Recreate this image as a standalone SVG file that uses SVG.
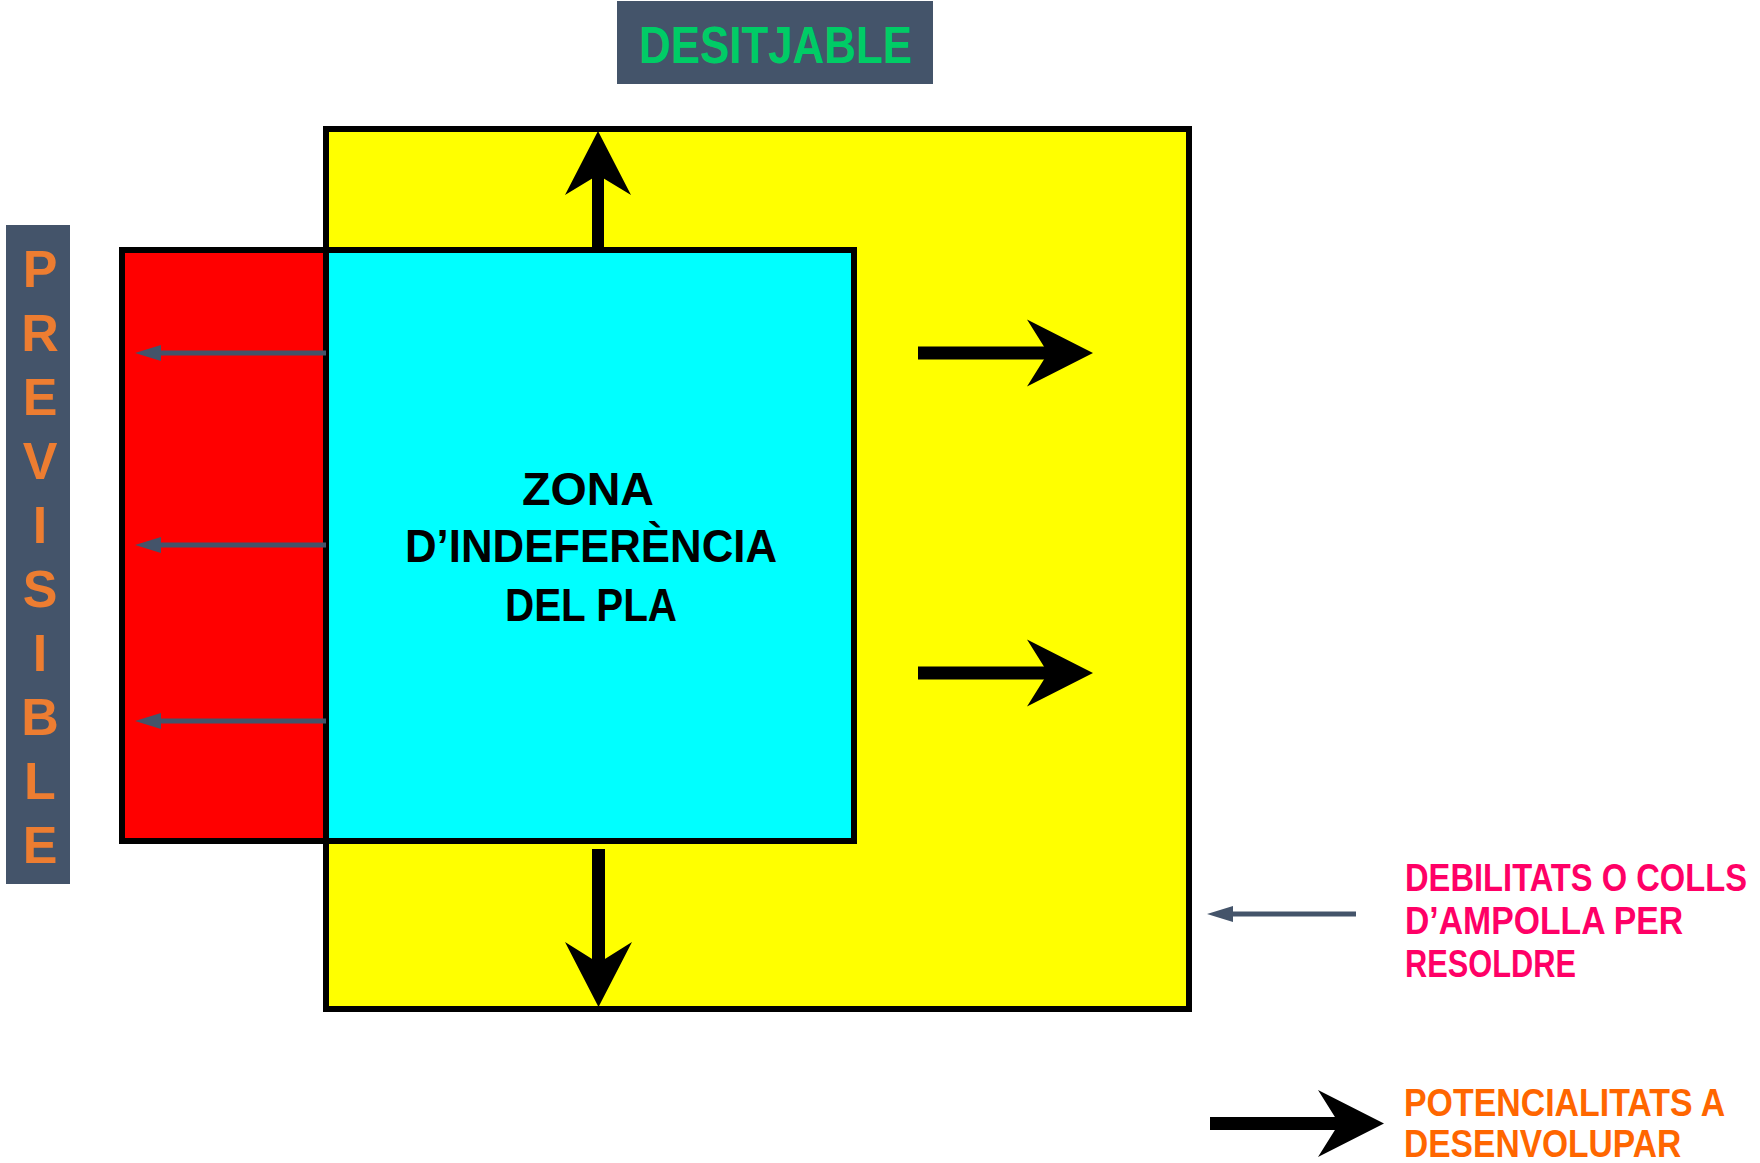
<svg xmlns="http://www.w3.org/2000/svg" width="1760" height="1163" viewBox="0 0 1760 1163">
  <style>
    .t { font-family: "Liberation Sans", Arial, sans-serif; font-weight: bold; }
    .box { stroke: #000; stroke-width: 6; }
    .blk { fill: #000; }
    .gry { stroke: #44546A; stroke-width: 5; fill: none; }
    .gryhead { fill: #44546A; }
  </style>
  <defs>
    <marker id="gh" viewBox="0 0 26 16" refX="0" refY="8" markerWidth="26" markerHeight="16" markerUnits="userSpaceOnUse" orient="auto">
      <path d="M26,8 L0,0 L0,16 Z" class="gryhead"/>
    </marker>
  </defs>
  <rect width="1760" height="1163" fill="#FFFFFF"/>

  <g id="desitjable">
    <rect x="617" y="1" width="316" height="83" fill="#44546A"/>
    <text class="t" x="639" y="63" font-size="52" fill="#00CC66" textLength="273" lengthAdjust="spacingAndGlyphs">DESITJABLE</text>
  </g>

  <g id="previsible">
    <rect x="6" y="225" width="64" height="659" fill="#44546A"/>
    <g class="t" font-size="52" fill="#ED7D31" text-anchor="middle">
      <text x="40" y="287">P</text>
      <text x="40" y="351">R</text>
      <text x="40" y="415">E</text>
      <text x="40" y="479">V</text>
      <text x="40" y="543">I</text>
      <text x="40" y="607">S</text>
      <text x="40" y="671">I</text>
      <text x="40" y="735">B</text>
      <text x="40" y="799">L</text>
      <text x="40" y="863">E</text>
    </g>
  </g>

  <g id="zona-desitjable">
    <rect class="box" x="326" y="129" width="863" height="880" fill="#FFFF00"/>
  </g>

  <g id="zona-debilitats">
    <rect class="box" x="122" y="250" width="204" height="591" fill="#FF0000"/>
  </g>

  <g id="zona-indeferencia">
    <rect class="box" x="326" y="250" width="528" height="591" fill="#00FFFF"/>
    <g class="t" font-size="46" fill="#000">
      <text x="522" y="505" textLength="132" lengthAdjust="spacingAndGlyphs">ZONA</text>
      <text x="405" y="562" textLength="372" lengthAdjust="spacingAndGlyphs">D’INDEFERÈNCIA</text>
      <text x="505" y="621" textLength="172" lengthAdjust="spacingAndGlyphs">DEL PLA</text>
    </g>
  </g>

  <g id="connectors">
    <!-- gray arrows into red zone -->
    <line class="gry" x1="326" y1="353" x2="161" y2="353" marker-end="url(#gh)"/>
    <line class="gry" x1="326" y1="545" x2="161" y2="545" marker-end="url(#gh)"/>
    <line class="gry" x1="326" y1="721" x2="161" y2="721" marker-end="url(#gh)"/>
    <!-- up arrow -->
    <rect class="blk" x="592" y="170" width="12" height="80"/>
    <path class="blk" d="M598,131 L565,195 L598,175 L631,195 Z"/>
    <!-- down arrow -->
    <rect class="blk" x="592" y="849" width="13" height="119"/>
    <path class="blk" d="M598.5,1007 L565,942 L598.5,963 L632,942 Z"/>
    <!-- right arrows -->
    <rect class="blk" x="918" y="346.5" width="136" height="13"/>
    <path class="blk" d="M1093,353 L1027,319.5 L1048,353 L1027,386.5 Z"/>
    <rect class="blk" x="918" y="666.5" width="136" height="13"/>
    <path class="blk" d="M1093,673 L1027,639.5 L1048,673 L1027,706.5 Z"/>
    <!-- legend arrows -->
    <line class="gry" x1="1356" y1="914" x2="1233" y2="914" marker-end="url(#gh)"/>
    <rect class="blk" x="1210" y="1117" width="134" height="13"/>
    <path class="blk" d="M1384,1123.5 L1318,1090 L1339,1123.5 L1318,1157 Z"/>
  </g>

  <g id="legend-debilitats">
    <g class="t" font-size="39" fill="#FF0066" transform="translate(1405,0) scale(0.83,1)">
      <text x="0" y="891" textLength="412" lengthAdjust="spacingAndGlyphs">DEBILITATS O COLLS</text>
      <text x="0" y="934" textLength="335" lengthAdjust="spacingAndGlyphs">D’AMPOLLA PER</text>
      <text x="0" y="977" textLength="206" lengthAdjust="spacingAndGlyphs">RESOLDRE</text>
    </g>
  </g>

  <g id="legend-potencialitats">
    <g class="t" font-size="39" fill="#FF6600" transform="translate(1404,0) scale(0.83,1)">
      <text x="0" y="1116" textLength="387" lengthAdjust="spacingAndGlyphs">POTENCIALITATS A</text>
      <text x="0" y="1157" textLength="334" lengthAdjust="spacingAndGlyphs">DESENVOLUPAR</text>
    </g>
  </g>
</svg>
